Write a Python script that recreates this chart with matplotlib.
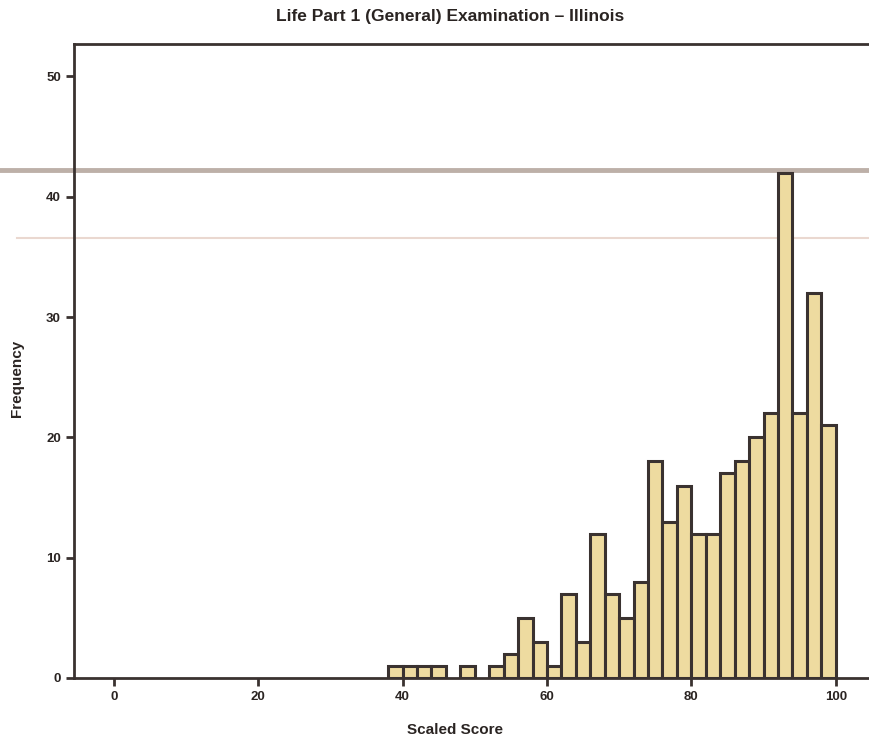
import matplotlib
matplotlib.use("Agg")
import matplotlib.pyplot as plt
from matplotlib.lines import Line2D

plt.rcParams['font.family'] = ['Liberation Sans', 'DejaVu Sans']

bin_left = [38, 40, 42, 44, 46, 48, 50, 52, 54, 56, 58, 60, 62, 64, 66, 68, 70, 72,
            74, 76, 78, 80, 82, 84, 86, 88, 90, 92, 94, 96, 98]
counts = [1, 1, 1, 1, 0, 1, 0, 1, 2, 5, 3, 1, 7, 3, 12, 7, 5, 8,
          18, 13, 16, 12, 12, 17, 18, 20, 22, 42, 22, 32, 21]
bin_width = 2
x_ticks = [0, 20, 40, 60, 80, 100]
y_ticks = [0, 10, 20, 30, 40, 50]

title = "Life Part 1 (General) Examination \u2013 Illinois"
xlabel = "Scaled Score"
ylabel = "Frequency"

fig = plt.figure(figsize=(8.69, 7.44), dpi=100)
ax = fig.add_axes([74 / 869, 66 / 744, 1 - 74 / 869, (678 - 44) / 744])
ax.set_zorder(1)

# scan artifact lines (behind the axes content)
fig.add_artist(Line2D([0, 1], [1 - 170 / 744, 1 - 170 / 744], transform=fig.transFigure,
                      color='#bdb0a8', lw=3.5, zorder=-1))
fig.add_artist(Line2D([0.02, 1], [1 - 238 / 744, 1 - 238 / 744], transform=fig.transFigure,
                      color='#ead8d0', lw=1.5, zorder=-1))

ax.bar([b for b, c in zip(bin_left, counts) if c > 0],
       [c for c in counts if c > 0],
       width=bin_width, align='edge', color='#eedba0',
       edgecolor='#3a3230', linewidth=2.2, zorder=3)

ax.set_xlim(-5.5, 104.6)
ax.set_ylim(0, 52.7)
ax.patch.set_alpha(0)

ax.set_xticks(x_ticks)
ax.set_yticks(y_ticks)
ax.tick_params(axis='both', direction='out', length=6, width=2, color='#3a3230',
               labelsize=9.5, labelcolor='#2a2422')
for lab in ax.get_xticklabels() + ax.get_yticklabels():
    lab.set_fontweight('bold')

for s in ['left', 'bottom', 'top']:
    ax.spines[s].set_color('#3a3230')
    ax.spines[s].set_linewidth(2)
ax.spines['right'].set_visible(False)

fig.text(450 / 869, 1 - 17 / 744, title, ha='center', va='center',
         fontsize=12.5, fontweight='bold', color='#2a2422')
fig.text(455 / 869, 1 - 730 / 744, xlabel, ha='center', va='center',
         fontsize=11, fontweight='bold', color='#2a2422')
fig.text(17 / 869, 1 - 378 / 744, ylabel, ha='center', va='center', rotation=90,
         fontsize=11, fontweight='bold', color='#2a2422')

fig.savefig("out.png", dpi=100)
